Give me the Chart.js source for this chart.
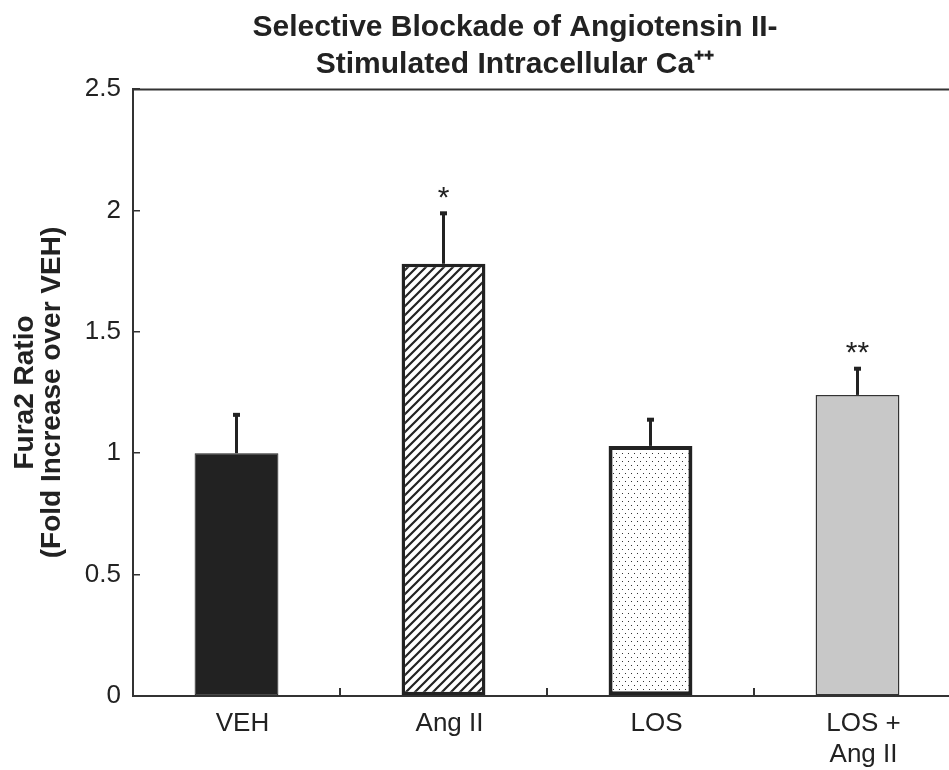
<!DOCTYPE html>
<html lang="en">
<head>
  <meta charset="UTF-8">
  <title>Selective Blockade of Angiotensin II</title>
  <style>
    html, body { margin: 0; padding: 0; background: #fff; overflow: hidden; }
    #wrap { position: relative; width: 1030px; height: 770px; }
  </style>
</head>
<body>
<div id="wrap"><canvas id="bar-chart"></canvas></div>

<script src="https://cdn.jsdelivr.net/npm/chart.js@4.4.1/dist/chart.umd.min.js"></script>
<script>
// data
var categories = [['VEH'], ['Ang II'], ['LOS'], ['LOS +', 'Ang II']];
var means = [1.00, 1.78, 1.03, 1.24];
var sems = [0.16, 0.21, 0.11, 0.11];
var marks = ['', '*', '', '**'];
var yTicks = [0, 0.5, 1, 1.5, 2, 2.5];

var ink = '#222';
var sans = '"Liberation Sans", Arial, sans-serif';

// fill patterns for the two textured bars
function makePattern(w, h, paint) {
  var c = document.createElement('canvas');
  c.width = w; c.height = h;
  var g = c.getContext('2d');
  g.fillStyle = '#fff';
  g.fillRect(0, 0, w, h);
  paint(g);
  return g.createPattern(c, 'repeat');
}

var hatch = makePattern(9, 9, function (g) {
  g.strokeStyle = ink;
  g.lineWidth = 2.2;
  g.beginPath();
  g.moveTo(-1, 10); g.lineTo(10, -1);
  g.moveTo(-2, 2); g.lineTo(2, -2);
  g.moveTo(7, 11); g.lineTo(11, 7);
  g.stroke();
});

var dots = makePattern(6, 8, function (g) {
  g.fillStyle = '#333';
  g.fillRect(1, 1, 1, 1);
  g.fillRect(4, 5, 1, 1);
});

var errorBars = {
  id: 'errorBars',
  afterDatasetsDraw: function (chart) {
    var ctx = chart.ctx;
    var y = chart.scales.y;
    var meta = chart.getDatasetMeta(0);
    ctx.save();
    meta.data.forEach(function (bar, i) {
      var top = y.getPixelForValue(means[i] + sems[i]);
      ctx.strokeStyle = ink;
      ctx.lineWidth = 3;
      ctx.beginPath();
      ctx.moveTo(bar.x, bar.y);
      ctx.lineTo(bar.x, top);
      ctx.stroke();
      ctx.fillStyle = ink;
      ctx.fillRect(bar.x - 3.5, top - 1.5, 7, 4);
      if (marks[i]) {
        ctx.font = '30px ' + sans;
        ctx.textAlign = 'center';
        ctx.textBaseline = 'alphabetic';
        ctx.fillText(marks[i], bar.x, top - 6);
      }
    });
    // top frame line
    var a = chart.chartArea;
    ctx.strokeStyle = '#333';
    ctx.lineWidth = 2;
    ctx.beginPath();
    ctx.moveTo(a.left, Math.round(a.top) + 0.5);
    ctx.lineTo(a.right, Math.round(a.top) + 0.5);
    ctx.stroke();
    ctx.restore();
  }
};

new Chart(document.getElementById('bar-chart'), {
  type: 'bar',
  data: {
    labels: categories,
    datasets: [{
      data: means,
      backgroundColor: [ink, hatch, dots, '#c8c8c8'],
      borderColor: [ink, ink, ink, '#333'],
      borderWidth: [1, 3.5, 4, 1.5],
      borderSkipped: false,
      barPercentage: 0.405,
      categoryPercentage: 1
    }]
  },
  options: {
    responsive: true,
    maintainAspectRatio: false,
    animation: false,
    layout: { padding: 0 },
    plugins: {
      legend: { display: false },
      tooltip: { enabled: false },
      title: {
        display: true,
        text: ['Selective Blockade of Angiotensin II-', 'Stimulated Intracellular Ca\u207A\u207A'],
        color: ink,
        font: { family: sans, size: 30, weight: 'bold', lineHeight: 1.233 },
        padding: { top: 9, bottom: 6 }
      }
    },
    scales: {
      x: {
        type: 'category',
        offset: true,
        grid: { offset: true, drawOnChartArea: false, drawTicks: true, tickLength: -8, color: '#333', lineWidth: 2 },
        border: { display: true, color: '#333', width: 2 },
        ticks: {
          color: ink, padding: 20, labelOffset: 6, maxRotation: 0, autoSkip: false,
          font: { family: sans, size: 26, lineHeight: 1.2 }
        },
        afterFit: function (s) { s.height = 74; }
      },
      y: {
        min: 0,
        max: 2.5,
        afterBuildTicks: function (s) { s.ticks = yTicks.map(function (v) { return { value: v }; }); },
        grid: { drawOnChartArea: false, drawTicks: true, tickLength: -7, color: '#333', lineWidth: 1.5 },
        border: { display: true, color: '#333', width: 2 },
        ticks: {
          color: ink, padding: 19,
          font: { family: sans, size: 26 },
          callback: function (v) { return String(v); }
        },
        title: {
          display: true,
          text: ['Fura2 Ratio', '(Fold Increase over VEH)'],
          color: ink,
          font: { family: sans, size: 28, weight: 'bold', lineHeight: 0.96 },
          padding: { top: 12, bottom: 0 }
        },
        afterFit: function (s) { s.width = 133; }
      },
      // empty strip on the right so the plot runs past the window edge
      pad: {
        type: 'linear',
        position: 'right',
        display: true,
        grid: { display: false },
        border: { display: false },
        ticks: { display: false },
        afterFit: function (s) { s.width = 69; }
      }
    }
  },
  plugins: [errorBars]
});
</script>
</body>
</html>
